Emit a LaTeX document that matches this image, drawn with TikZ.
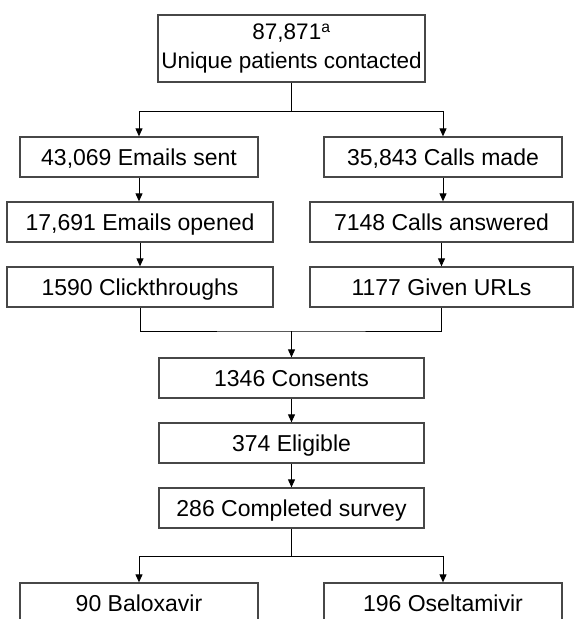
\documentclass[tikz,border=0pt]{standalone}
\usepackage{fontspec}
\setmainfont{Liberation Sans}
\usetikzlibrary{arrows.meta}
\begin{document}
\begin{tikzpicture}[x=1pt, y=-1pt,
  frame/.style={draw=black!72, line width=1.3pt, fill=white, inner sep=0pt, align=center},
  box/.style={frame, font=\fontsize{23}{28}\selectfont, text height=20pt, text depth=4pt},
  headbox/.style={frame, font=\fontsize{22.5}{29}\selectfont},
  link/.style={draw=black, line width=1pt},
  arr/.style={link, -{Triangle[length=8pt, width=7pt]}}]
\useasboundingbox (0,0) rectangle (574,619);
\clip (0,0) rectangle (574,619);

% boxes
\node[headbox, minimum width=267pt, minimum height=67pt] (top) at (291.5,48.5)
  {87,871\textsuperscript{a}\\Unique patients contacted};
\node[box, minimum width=238pt, minimum height=40pt] (sent)   at (139,157)   {43,069 Emails sent};
\node[box, minimum width=238pt, minimum height=40pt] (made)   at (443,157)   {35,843 Calls made};
\node[box, minimum width=266pt, minimum height=40pt] (opened) at (140,222)   {17,691 Emails opened};
\node[box, minimum width=263pt, minimum height=40pt] (answer) at (441.5,222) {7148 Calls answered};
\node[box, minimum width=266pt, minimum height=40pt] (click)  at (140,287)   {1590 Clickthroughs};
\node[box, minimum width=263pt, minimum height=40pt] (urls)   at (441.5,287) {1177 Given URLs};
\node[box, minimum width=265pt, minimum height=40pt] (consent) at (291.5,378) {1346 Consents};
\node[box, minimum width=265pt, minimum height=40pt] (elig)   at (291.5,443) {374 Eligible};
\node[box, minimum width=265pt, minimum height=40pt] (done)   at (291.5,508) {286 Completed survey};
\node[box, minimum width=238pt, minimum height=40pt] (balox)  at (139,603)   {90 Baloxavir};
\node[box, minimum width=238pt, minimum height=40pt] (oselt)  at (443,603)   {196 Oseltamivir};

% junction points
\coordinate (split1) at (291.5,111);
\coordinate (merge)  at (291.5,331);
\coordinate (split2) at (291.5,556);

% connectors
\draw[link] (top.south) -- (split1);
\draw[arr] (split1) -| (sent.north);
\draw[arr] (split1) -| (made.north);
\draw[arr] (sent.south) -- (sent.south |- opened.north);
\draw[arr] (made.south) -- (made.south |- answer.north);
\draw[arr] (opened.south) -- (click.north);
\draw[arr] (answer.south) -- (urls.north);
\draw[link] (click.south) |- (merge) -| (urls.south);
\draw[arr] (merge) -- (consent.north);
\draw[arr] (consent.south) -- (elig.north);
\draw[arr] (elig.south) -- (done.north);
\draw[link] (done.south) -- (split2);
\draw[arr] (split2) -| (balox.north);
\draw[arr] (split2) -| (oselt.north);
\end{tikzpicture}
\end{document}
